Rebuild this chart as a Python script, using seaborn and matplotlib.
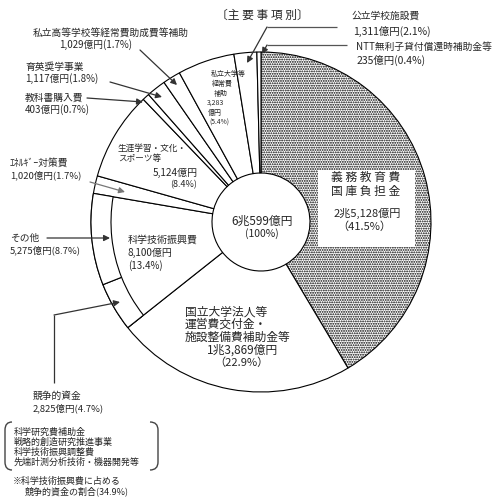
import numpy as np
import pandas as pd
import seaborn as sns
import matplotlib
matplotlib.use('Agg')
import matplotlib.pyplot as plt
from matplotlib.patches import Rectangle
from matplotlib.path import Path
from matplotlib.patches import PathPatch

# ---------------- data ----------------
categories = ['義務教育費国庫負担金', '国立大学法人等運営費交付金・施設整備費補助金等', '科学技術振興費',
              'エネルギー対策費', '生涯学習・文化・スポーツ等', '教科書購入費', '育英奨学事業',
              '私立高等学校等経常費助成費等補助', '私立大学等経常費補助', '公立学校施設費',
              'NTT無利子貸付償還時補助金等']
values = [25128, 13869, 8100, 1020, 5124, 403, 1117, 1029, 3283, 1311, 235]   # 億円
shares = [41.5, 22.9, 13.4, 1.7, 8.4, 0.7, 1.8, 1.7, 5.4, 2.1, 0.4]           # %
sci_sub_categories = ['競争的資金', 'その他']
sci_sub_values = [2825, 5275]
sci_sub_shares = [4.7, 8.7]
total_label = '6兆599億円'
competitive_ratio = 34.9
competitive_items = ['科学研究費補助金', '戦略的創造研究推進事業', '科学技術振興調整費', '先端計測分析技術・機器開発等']

df = pd.DataFrame({'category': categories, 'value': values, 'share': shares})

# ---------------- style ----------------
sns.set_theme(style='white')
plt.rcParams['font.family'] = ['Noto Sans CJK JP', 'DejaVu Sans']
plt.rcParams['hatch.linewidth'] = 0.9

fig = plt.figure(figsize=(5, 5), dpi=100)
ax = fig.add_axes([0, 0, 1, 1])

H = 500
def Y(y):
    return H - y

CX, CY, R, RIN, RBAND = 261, 222, 170, 49, 150

def oku(v):
    if v >= 10000:
        return f'{v // 10000}兆{v % 10000:,}億円'
    return f'{v:,}億円'

# main donut
wedges, _ = ax.pie(df['value'], radius=R, center=(CX, Y(CY)), startangle=90, counterclock=False,
                   colors=['white'] * len(df),
                   wedgeprops=dict(width=R - RIN, edgecolor='black', linewidth=0.8))
wedges[0].set_hatch('.......')
wedges[0].set_facecolor('white')

# outer band splitting 科学技術振興費
band_vals = list(df['value'][:2]) + sci_sub_values + list(df['value'][3:])
bw, _ = ax.pie(band_vals, radius=R, center=(CX, Y(CY)), startangle=90, counterclock=False,
               colors=['white'] * len(band_vals),
               wedgeprops=dict(width=R - RBAND, edgecolor='black', linewidth=0.8))
for i, w in enumerate(bw):
    if i not in (2, 3):
        w.set_visible(False)

ax.set_xlim(0, 500)
ax.set_ylim(0, 500)
ax.set_aspect('equal')
ax.axis('off')

# white box behind the big wedge text
ax.add_patch(Rectangle((318, Y(247)), 97, 77, facecolor='white', edgecolor='none', zorder=3))

def T(x, y, s, size=7, ha='left', **kw):
    ax.text(x, Y(y), s, fontsize=size, ha=ha, va='center', zorder=5, **kw)

def arrow(x0, y0, x1, y1, color='#333333'):
    ax.annotate('', xy=(x1, Y(y1)), xytext=(x0, Y(y0)), zorder=6,
                arrowprops=dict(arrowstyle='-|>', color=color, lw=0.9, mutation_scale=9,
                                shrinkA=0, shrinkB=0))

def line(xs, ys, color='#555555'):
    ax.plot(xs, [Y(v) for v in ys], color=color, lw=0.9, zorder=6, solid_capstyle='butt')

def bracket(xe, xc, y0, y1):
    verts = [(xe, Y(y0)), (xc, Y(y0)), (xc, Y(y0 + 8)),
             (xc, Y(y1 - 8)),
             (xc, Y(y1)), (xe, Y(y1))]
    codes = [Path.MOVETO, Path.CURVE3, Path.CURVE3, Path.LINETO, Path.CURVE3, Path.CURVE3]
    ax.add_patch(PathPatch(Path(verts, codes), facecolor='none', edgecolor='#444444', lw=1.0, zorder=6))

# title
T(262, 15, '〔主 要 事 項 別〕', size=8.5, ha='center')

# center
T(262, 221, total_label, size=8.5, ha='center')
T(262, 234, '(100%)', size=7.5, ha='center')

# 義務教育費
T(366, 177, '義 務 教 育 費', size=8.5, ha='center')
T(366, 191, '国 庫 負 担 金', size=8.5, ha='center')
T(367, 213, oku(values[0]), size=8, ha='center')
T(364, 227, f'（{shares[0]}%）', size=8, ha='center')

# 国立大学法人等
T(185, 312, '国立大学法人等', size=8.5)
T(185, 324, '運営費交付金・', size=8.5)
T(185, 337, '施設整備費補助金等', size=8.5)
T(243, 350, oku(values[1]), size=8.5, ha='center')
T(241, 363, f'（{shares[1]}%）', size=8, ha='center')

# 科学技術振興費
T(128, 240, '科学技術振興費', size=7.2)
T(128, 253, oku(values[2]), size=7.2)
T(128, 266, f'({shares[2]}%)', size=7)

# 生涯学習
T(118, 148, '生涯学習・文化・', size=6.2)
T(118, 159, 'スポーツ等', size=6.2)
T(153, 173, oku(values[4]), size=7.2)
T(170, 185, f'({shares[4]}%)', size=6.5)

# 私立大学等 (inside wedge, small)
T(211, 74, '私立大学等', size=5)
T(212, 84, '経常費', size=5)
T(214, 94, '補助', size=5)
T(215, 103, f'{values[8]:,}', size=5, ha='center')
T(215, 113, '億円', size=5, ha='center')
T(219, 123, f'({shares[8]}%)', size=4.8, ha='center')

# left labels
T(33, 33, categories[7], size=7)
T(59, 45, f'{oku(values[7])}({shares[7]}%)', size=7)
arrow(140, 50, 177, 85)

T(25, 67, categories[6], size=7)
T(25, 79, f'{oku(values[6])}({shares[6]}%)', size=7)
arrow(110, 82, 162, 97)

T(25, 98, categories[5], size=7)
T(25, 110, f'{oku(values[5])}({shares[5]}%)', size=7)
arrow(87, 98, 143, 102)

T(10, 163, 'ｴﾈﾙｷﾞｰ対策費', size=7)
T(10, 175, f'{oku(values[3])}({shares[3]}%)', size=6.8)
arrow(90, 182, 125, 192, color='#777777')

T(10, 238, sci_sub_categories[1], size=7)
T(10, 250, f'{oku(sci_sub_values[1])}({sci_sub_shares[1]}%)', size=6.8)
arrow(47, 238, 110, 238)

# 競争的資金
line([54, 54], [383, 315], color='#333333')
arrow(54, 315, 120, 302)
T(33, 396, sci_sub_categories[0], size=7)
T(33, 408, f'{oku(sci_sub_values[0])}({sci_sub_shares[0]}%)', size=6.8)

# bracket block
for i, s in enumerate(competitive_items):
    T(14, 432 + i * 10, s, size=6.5)
bracket(12, 5, 422, 470)
bracket(150, 158, 422, 470)
T(13, 481, '※科学技術振興費に占める', size=6.5)
T(25, 491, f'競争的資金の割合({competitive_ratio}%)', size=6.5)

# right labels
T(352, 16, categories[9], size=7)
T(353, 31, f'{oku(values[9])}({shares[9]}%)', size=7.5)
line([337, 267], [27, 27])
arrow(267, 27, 247, 63)

T(356, 47, categories[10], size=7)
T(357, 60, f'{oku(values[10])}({shares[10]}%)', size=7.5)
line([347, 267], [45, 45])
arrow(267, 45, 262, 54)

fig.savefig('out.png', dpi=100)
